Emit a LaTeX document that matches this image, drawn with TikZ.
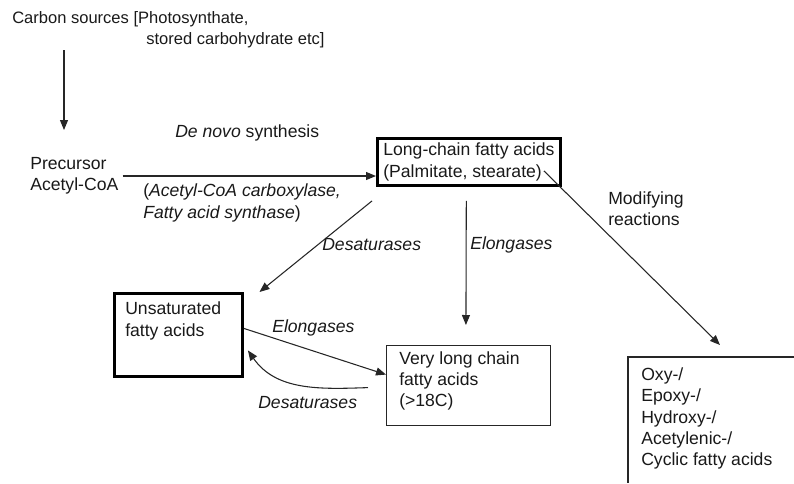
\documentclass[tikz,border=0pt]{standalone}
\usepackage{fontspec}
\setmainfont{Liberation Sans}
\usetikzlibrary{arrows.meta}

\begin{document}
\begin{tikzpicture}[x=0.75pt,y=-0.75pt,
    every node/.style={inner sep=0pt,anchor=west,align=left,text=black!90,
      font=\fontsize{13.2}{16}\selectfont},
    flow/.style={draw=black!85,line width=0.8pt,-{Triangle[length=7.5pt,width=6pt]}},
    thickbox/.style={draw=black,line width=2.2pt,anchor=north west},
    thinbox/.style={draw=black!85,line width=0.9pt,anchor=north west}]
  \useasboundingbox (0,0) rectangle (794,483);
  % sources and precursor
  \node[font=\fontsize{12.4}{16}\selectfont] (carbon) at (12,30) {Carbon sources [Photosynthate,\\
    \hspace*{100.5pt}stored carbohydrate etc]};
  \coordinate (carbonFoot) at (64,50);
  \coordinate (precHead) at (64,130);
  \node (prec) at (30,176) {Precursor\\Acetyl-CoA};
  \node (denovo) at (175,133) {\textit{De novo} synthesis};
  \node (enzymes) at (143,203) {(\textit{Acetyl-CoA carboxylase,}\\\textit{Fatty acid synthase})};
  % boxes
  \node[thickbox,minimum width=137.25pt,minimum height=35.25pt] (lcfa) at (376,137)
    {Long-chain fatty acids\\(Palmitate, stearate)};
  \node[thickbox,minimum width=96pt,minimum height=62.25pt] (unsat) at (113,292) {};
  \node (unsatText) at (125,321) {Unsaturated\\fatty acids};
  \node[thinbox,minimum width=123pt,minimum height=60pt] (vlc) at (386,345) {};
  \node (vlcText) at (399,381) {Very long chain\\fatty acids\\(>18C)};
  \coordinate (modTL) at (628,357);
  \draw[black!85,line width=0.9pt] (794,357) -- (modTL) -- (628,483);
  \node (modText) at (641,418.5) {Oxy-/\\Epoxy-/\\Hydroxy-/\\Acetylenic-/\\Cyclic fatty acids};
  \node (modify) at (608,208.5) {Modifying\\reactions};
  % labels
  \node (desatA) at (322,245) {\textit{Desaturases}};
  \node (elongA) at (470,245) {\textit{Elongases}};
  \node (elongB) at (272,328) {\textit{Elongases}};
  \node (desatB) at (258,403) {\textit{Desaturases}};
  % arrows
  \draw[flow] (carbonFoot) -- (precHead);
  \draw[flow] ([xshift=3pt]prec.east) -- (prec.east -| lcfa.west);
  \draw[flow] ([xshift=-3pt,yshift=-10.5pt]lcfa.south west) -- ([xshift=60.75pt]unsat.north);
  \draw[flow] ([xshift=-2pt,yshift=-10.5pt]lcfa.south) -- ([xshift=-2pt,yshift=15pt]vlc.north);
  \draw[flow] ([xshift=-13.5pt,yshift=12pt]lcfa.south east) -- ([xshift=69pt,yshift=9pt]modTL);
  \draw[flow] ([yshift=4.9pt]unsat.east) -- ([yshift=8.25pt]vlc.west);
  \draw[flow] ([xshift=-13.5pt,yshift=-1.5pt]vlc.west) to[out=182,in=-55] ([xshift=3pt,yshift=-11.6pt]unsat.east);
\end{tikzpicture}
\end{document}
